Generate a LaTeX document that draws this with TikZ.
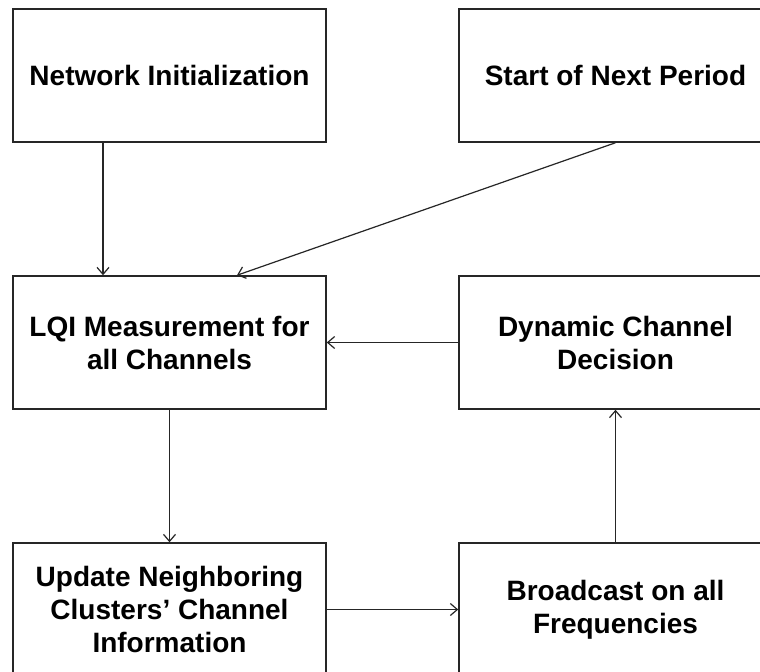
\documentclass[tikz,border=0pt]{standalone}
\usepackage{fontspec}
\setmainfont{Liberation Sans}
\usetikzlibrary{arrows.meta}
\begin{document}
\begin{tikzpicture}[x=1bp,y=-1bp,
  box/.style={draw=black!85, line width=1.5bp, minimum width=313bp, minimum height=133bp,
    inner sep=0pt, align=center, font=\fontsize{28bp}{33bp}\selectfont\bfseries},
  arr/.style={draw=black!85, line width=1.2bp, -{Straight Barb[length=7bp,width=12bp]}}]
\useasboundingbox (0,0) rectangle (760,672);
\clip (0,0) rectangle (760,672);
\fill[white] (0,0) rectangle (760,672);
\node[box] (ni)  at (169.5,75.5)  {Network Initialization};
\node[box] (snp) at (615.5,75.5)  {Start of Next Period};
\node[box] (lqi) at (169.5,342.5) {LQI Measurement for\\all Channels};
\node[box] (dcd) at (615.5,342.5) {Dynamic Channel\\Decision};
\node[box] (unc) at (169.5,609.5) {Update Neighboring\\Clusters’ Channel\\Information};
\node[box] (bof) at (615.5,609.5) {Broadcast on all\\Frequencies};
\coordinate (c1) at (103,0);
\coordinate (c2) at (237,0);
\draw[arr] (ni.south -| c1) -- (lqi.north -| c1);
\draw[arr] (snp.south) -- (lqi.north -| c2);
\draw[arr] (dcd.west) -- (lqi.east);
\draw[arr] (lqi.south) -- (unc.north);
\draw[arr] (unc.east) -- (bof.west);
\draw[arr] (bof.north) -- (dcd.south);
\end{tikzpicture}
\end{document}
